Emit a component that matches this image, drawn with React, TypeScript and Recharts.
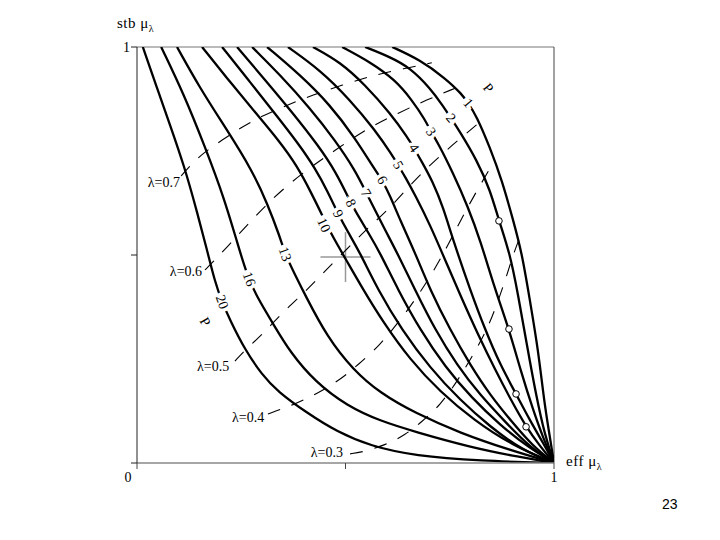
import { ComposedChart, Line, Scatter, XAxis, YAxis, ReferenceLine } from "recharts";

// P-curves: [eff, stb]
const p1 = [[0.612, 1], [0.679, 0.969], [0.739, 0.925], [0.779, 0.887], [0.794, 0.865], [0.813, 0.837], [0.847, 0.757], [0.875, 0.68], [0.902, 0.584], [0.923, 0.505], [0.942, 0.392], [0.962, 0.272], [0.976, 0.151], [0.988, 0.075], [1, 0]];
const p2 = [[0.547, 1], [0.607, 0.976], [0.655, 0.95], [0.703, 0.901], [0.734, 0.858], [0.753, 0.829], [0.772, 0.8], [0.815, 0.728], [0.847, 0.656], [0.868, 0.582], [0.894, 0.505], [0.914, 0.404], [0.935, 0.284], [0.957, 0.163], [0.978, 0.067], [1, 0]];
const p3 = [[0.492, 1], [0.559, 0.964], [0.619, 0.921], [0.659, 0.873], [0.691, 0.825], [0.705, 0.796], [0.722, 0.769], [0.758, 0.697], [0.794, 0.615], [0.823, 0.536], [0.859, 0.416], [0.892, 0.322], [0.921, 0.219], [0.95, 0.127], [0.974, 0.06], [1, 0]];
const p4 = [[0.422, 1], [0.487, 0.964], [0.547, 0.909], [0.607, 0.841], [0.65, 0.781], [0.664, 0.757], [0.681, 0.728], [0.71, 0.675], [0.734, 0.615], [0.758, 0.536], [0.799, 0.416], [0.835, 0.32], [0.871, 0.236], [0.909, 0.166], [0.942, 0.103], [0.974, 0.048], [1, 0]];
const p5 = [[0.362, 1], [0.439, 0.945], [0.511, 0.873], [0.571, 0.8], [0.612, 0.74], [0.626, 0.716], [0.643, 0.688], [0.667, 0.644], [0.703, 0.572], [0.739, 0.488], [0.775, 0.404], [0.818, 0.308], [0.859, 0.224], [0.897, 0.151], [0.933, 0.087], [0.966, 0.041], [1, 0]];
const p6 = [[0.312, 1], [0.391, 0.933], [0.463, 0.861], [0.523, 0.781], [0.568, 0.709], [0.588, 0.68], [0.607, 0.642], [0.631, 0.584], [0.667, 0.505], [0.703, 0.416], [0.751, 0.32], [0.799, 0.236], [0.847, 0.163], [0.899, 0.099], [0.947, 0.043], [1, 0]];
const p7 = [[0.276, 1], [0.343, 0.933], [0.415, 0.853], [0.475, 0.776], [0.523, 0.704], [0.549, 0.651], [0.571, 0.608], [0.595, 0.56], [0.624, 0.505], [0.667, 0.416], [0.715, 0.32], [0.767, 0.236], [0.823, 0.163], [0.883, 0.099], [0.942, 0.038], [1, 0]];
const p8 = [[0.24, 1], [0.307, 0.921], [0.374, 0.841], [0.434, 0.764], [0.477, 0.7], [0.513, 0.625], [0.525, 0.603], [0.554, 0.555], [0.583, 0.505], [0.626, 0.416], [0.679, 0.32], [0.739, 0.231], [0.803, 0.156], [0.871, 0.091], [0.938, 0.038], [1, 0]];
const p9 = [[0.204, 1], [0.271, 0.916], [0.333, 0.837], [0.386, 0.769], [0.427, 0.709], [0.458, 0.651], [0.482, 0.599], [0.506, 0.555], [0.535, 0.505], [0.578, 0.416], [0.635, 0.32], [0.703, 0.228], [0.775, 0.151], [0.847, 0.087], [0.923, 0.031], [1, 0]];
const p10 = [[0.156, 1], [0.223, 0.916], [0.285, 0.841], [0.341, 0.774], [0.384, 0.714], [0.417, 0.651], [0.444, 0.596], [0.468, 0.546], [0.499, 0.493], [0.54, 0.421], [0.59, 0.339], [0.655, 0.248], [0.727, 0.171], [0.808, 0.103], [0.899, 0.043], [1, 0]];
const p13 = [[0.096, 1], [0.151, 0.901], [0.213, 0.805], [0.276, 0.704], [0.314, 0.62], [0.341, 0.548], [0.357, 0.498], [0.376, 0.459], [0.403, 0.404], [0.456, 0.303], [0.518, 0.224], [0.583, 0.168], [0.667, 0.12], [0.775, 0.072], [0.894, 0.031], [1, 0]];
const p16 = [[0.058, 1], [0.113, 0.885], [0.163, 0.76], [0.209, 0.637], [0.242, 0.524], [0.264, 0.452], [0.285, 0.404], [0.331, 0.327], [0.367, 0.267], [0.427, 0.195], [0.504, 0.137], [0.583, 0.101], [0.667, 0.075], [0.799, 0.038], [0.918, 0.014], [1, 0]];
const p20 = [[0.014, 1], [0.048, 0.901], [0.082, 0.805], [0.113, 0.714], [0.141, 0.615], [0.168, 0.512], [0.187, 0.435], [0.204, 0.387], [0.223, 0.344], [0.259, 0.272], [0.3, 0.212], [0.336, 0.173], [0.408, 0.12], [0.48, 0.075], [0.559, 0.041], [0.667, 0.017], [0.823, 0.005], [1, 0]];

// lambda contours (dashed)
const lam7 = [[0.106, 0.69], [0.122, 0.709], [0.158, 0.745], [0.204, 0.776], [0.247, 0.805], [0.295, 0.832], [0.355, 0.858], [0.422, 0.885], [0.494, 0.909], [0.559, 0.93], [0.626, 0.945], [0.707, 0.962]];
const lam6 = [[0.163, 0.464], [0.18, 0.481], [0.216, 0.519], [0.264, 0.572], [0.314, 0.625], [0.367, 0.673], [0.427, 0.719], [0.487, 0.76], [0.554, 0.805], [0.626, 0.841], [0.695, 0.873], [0.763, 0.901]];
const lam5 = [[0.235, 0.245], [0.259, 0.272], [0.302, 0.31], [0.35, 0.363], [0.405, 0.413], [0.453, 0.464], [0.506, 0.517], [0.559, 0.57], [0.607, 0.613], [0.659, 0.673], [0.715, 0.728], [0.77, 0.776], [0.823, 0.82]];
const lam4 = [[0.314, 0.118], [0.374, 0.139], [0.434, 0.168], [0.487, 0.2], [0.53, 0.236], [0.583, 0.284], [0.626, 0.337], [0.667, 0.392], [0.71, 0.459], [0.746, 0.524], [0.779, 0.589], [0.813, 0.651], [0.847, 0.709]];
const lam3 = [[0.511, 0.022], [0.54, 0.026], [0.595, 0.043], [0.643, 0.067], [0.683, 0.099], [0.727, 0.139], [0.767, 0.195], [0.803, 0.255], [0.837, 0.315], [0.863, 0.38], [0.887, 0.452], [0.906, 0.512], [0.923, 0.555]];

const markedPoints = [[0.868, 0.582], [0.892, 0.322], [0.909, 0.166], [0.933, 0.087]];

const curveLabels = [
  { t: "P", x: 0.842, y: 0.901, a: 50 },
  { t: "1", x: 0.794, y: 0.865, a: 50 },
  { t: "2", x: 0.753, y: 0.829, a: 50 },
  { t: "3", x: 0.705, y: 0.796, a: 55 },
  { t: "4", x: 0.664, y: 0.757, a: 55 },
  { t: "5", x: 0.626, y: 0.716, a: 60 },
  { t: "6", x: 0.588, y: 0.68, a: 60 },
  { t: "7", x: 0.549, y: 0.649, a: 60 },
  { t: "8", x: 0.513, y: 0.625, a: 65 },
  { t: "9", x: 0.482, y: 0.599, a: 65 },
  { t: "10", x: 0.448, y: 0.572, a: 65 },
  { t: "13", x: 0.355, y: 0.502, a: 70 },
  { t: "16", x: 0.269, y: 0.442, a: 70 },
  { t: "20", x: 0.204, y: 0.387, a: 70 },
  { t: "P", x: 0.163, y: 0.339, a: 60 },
];

const lambdaLabels = [
  { t: "λ=0.7", x: 0.103, y: 0.663 },
  { t: "λ=0.6", x: 0.156, y: 0.45 },
  { t: "λ=0.5", x: 0.221, y: 0.221 },
  { t: "λ=0.4", x: 0.305, y: 0.099 },
  { t: "λ=0.3", x: 0.494, y: 0.014 },
];

const crossCenter = { x: 0.5, y: 0.495 };
const crossArm = 0.06;

const toXY = (pts: number[][]) => pts.map(([x, y]) => ({ x, y }));
const pCurves = [p1, p2, p3, p4, p5, p6, p7, p8, p9, p10, p13, p16, p20].map(toXY);
const lambdaCurves = [lam7, lam6, lam5, lam4, lam3].map(toXY);

const serif = "'Liberation Serif', 'DejaVu Serif', serif";

const CurveLabel = (props: any) => {
  const { cx, cy, payload } = props;
  return (
    <text x={cx} y={cy} transform={`rotate(${payload.a} ${cx} ${cy})`} textAnchor="middle" dominantBaseline="central"
      fontFamily={serif} fontSize={14} fill="#000" stroke="#fff" strokeWidth={7} paintOrder="stroke">
      {payload.t}
    </text>
  );
};

const LambdaLabel = (props: any) => {
  const { cx, cy, payload } = props;
  return (
    <text x={cx} y={cy} textAnchor="end" fontFamily={serif} fontSize={14} fill="#000">
      {payload.t}
    </text>
  );
};

const Ring = (props: any) => <circle cx={props.cx} cy={props.cy} r={3.3} fill="#fff" stroke="#000" strokeWidth={1} />;

const XTick = (props: any) => {
  const { x, y, payload } = props;
  if (payload.value === 0.5) return null;
  const dx = payload.value === 0 ? -9 : 0;
  return <text x={x + dx} y={y + 11} textAnchor="middle" fontFamily={serif} fontSize={14} fill="#000" stroke="none">{payload.value}</text>;
};

const YTick = (props: any) => {
  const { x, y, payload } = props;
  if (payload.value !== 1) return null;
  return <text x={x + 1} y={y + 5} textAnchor="end" fontFamily={serif} fontSize={14} fill="#000" stroke="none">1</text>;
};

export default function App() {
  return (
    <div style={{ position: "absolute", left: 0, top: 0, width: 720, height: 540, background: "#fff" }}>
      <ComposedChart width={720} height={540} margin={{ top: 47, right: 166, bottom: 47, left: 107 }}>
        <XAxis type="number" dataKey="x" domain={[0, 1]} ticks={[0, 0.5, 1]} height={30} tickSize={6}
          axisLine={{ stroke: "#888", strokeWidth: 1.5 }} tickLine={{ stroke: "#444" }} tick={<XTick />} allowDataOverflow />
        <YAxis type="number" dataKey="y" domain={[0, 1]} ticks={[0, 0.5, 1]} width={30} tickSize={6}
          axisLine={{ stroke: "#222" }} tickLine={{ stroke: "#222" }} tick={<YTick />} allowDataOverflow />
        <ReferenceLine y={1} stroke="#777" strokeWidth={1.2} />
        <ReferenceLine x={1} stroke="#444" strokeWidth={1} />
        <ReferenceLine segment={[{ x: crossCenter.x - crossArm, y: crossCenter.y }, { x: crossCenter.x + crossArm, y: crossCenter.y }]} stroke="#999" strokeWidth={1.5} />
        <ReferenceLine segment={[{ x: crossCenter.x, y: crossCenter.y - crossArm }, { x: crossCenter.x, y: crossCenter.y + crossArm }]} stroke="#999" strokeWidth={1.5} />
        {lambdaCurves.map((d, i) => (
          <Line key={"l" + i} data={d} dataKey="y" type="basis" stroke="#000" strokeWidth={1.1}
            strokeDasharray="13 12" dot={false} activeDot={false} isAnimationActive={false} />
        ))}
        {pCurves.map((d, i) => (
          <Line key={"p" + i} data={d} dataKey="y" type="basis" stroke="#000" strokeWidth={2.3}
            dot={false} activeDot={false} isAnimationActive={false} />
        ))}
        <Scatter data={markedPoints.map(([x, y]) => ({ x, y }))} dataKey="y" shape={<Ring />} isAnimationActive={false} />
        <Scatter data={curveLabels} dataKey="y" shape={<CurveLabel />} isAnimationActive={false} />
        <Scatter data={lambdaLabels} dataKey="y" shape={<LambdaLabel />} isAnimationActive={false} />
      </ComposedChart>
      <div style={{ position: "absolute", left: 117, top: 15, fontFamily: serif, fontSize: 15, letterSpacing: 0.5, whiteSpace: "nowrap" }}>
        stb μ<sub style={{ fontSize: 10 }}>λ</sub>
      </div>
      <div style={{ position: "absolute", left: 566, top: 453, fontFamily: serif, fontSize: 15, letterSpacing: 0.5, whiteSpace: "nowrap" }}>
        eff μ<sub style={{ fontSize: 10 }}>λ</sub>
      </div>
      <div style={{ position: "absolute", left: 662, top: 496, fontFamily: "'Liberation Sans', sans-serif", fontSize: 14 }}>23</div>
    </div>
  );
}
